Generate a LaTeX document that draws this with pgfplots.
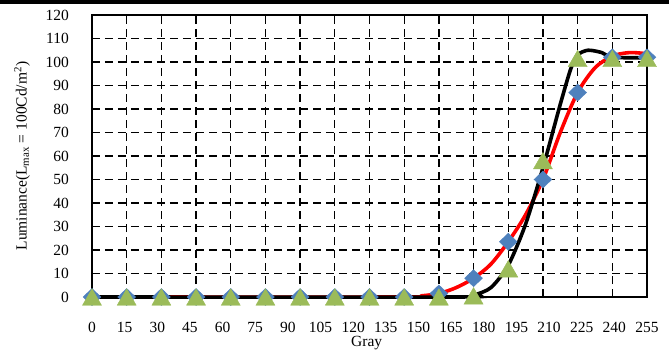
\documentclass[border=0pt]{standalone}
\usepackage{pgfplots}
\pgfplotsset{compat=1.18}
\usepackage{fontspec}
\setmainfont{Liberation Serif}
\definecolor{xlblue}{HTML}{4F81BD}
\definecolor{xlgreen}{HTML}{9BBB59}
\begin{document}
\begin{tikzpicture}[font=\fontsize{15.5bp}{18bp}\selectfont]
\path[use as bounding box] (-92bp,-59bp) rectangle (577bp,297bp);
\fill[black] (-92bp,297bp) rectangle (577bp,293bp);
\begin{axis}[
  at={(0,0)}, anchor=south west,
  scale only axis, width=555bp, height=282bp,
  xmin=0, xmax=16, ymin=0, ymax=120,
  clip=false,
  axis line style={line width=2.2bp},
  /pgf/number format/assume math mode=true,
  xtick={0,0.941176,1.882353,2.823529,3.764706,4.705882,5.647059,6.588235,7.529412,8.470588,9.411765,10.352941,11.294118,12.235294,13.176471,14.117647,15.058824,16},
  xticklabels={0,15,30,45,60,75,90,105,120,135,150,165,180,195,210,225,240,255},
  extra x ticks={1,2,...,15},
  extra x tick labels={},
  extra x tick style={xmajorgrids=true, major tick length=0},
  ytick={0,10,...,120},
  major tick length=0, minor tick length=0,
  xmajorgrids=false, ymajorgrids=true,
  grid style={black, line width=1.3bp, dash pattern=on 8bp off 5bp},
  xticklabel style={anchor=center, inner sep=0pt, yshift=-30bp},
  yticklabel style={anchor=east, inner sep=0pt, xshift=-23bp},
  xlabel={Gray},
  xlabel style={at={(axis description cs:0.495,0)}, anchor=center, yshift=-46bp, inner sep=0pt},
  ylabel={Luminance(L\textsubscript{max} = 100Cd/m\textsuperscript{2})},
  ylabel style={at={(axis description cs:-0.126,0.5)}, anchor=center, inner sep=0pt},
]
% red fitted curve
\addplot[red, line width=3.6bp, smooth, tension=0.5] coordinates {
(0,0) (9,0) (9.5,0.5) (10,1.5) (10.5,4) (11,8) (11.5,14) (12,23.5) (12.5,35) (13,50) (13.5,70) (14,87) (14.5,97.5) (15,102.5) (15.5,104) (16,103.5)
};
% black fitted curve
\addplot[black, line width=3.6bp, smooth, tension=0.45] coordinates {
(0,0) (10.5,0) (11,0.8) (11.5,4) (12,13.5) (12.5,31) (13,55) (13.5,82) (13.8,97) (14,103) (14.3,105) (14.7,104) (15,102) (16,101.8)
};
% blue diamonds
\addplot[only marks, mark=diamond*, mark size=8.5bp, mark options={xscale=1.4, draw=xlblue, fill=xlblue}] coordinates {
(0,0) (1,0) (2,0) (3,0) (4,0) (5,0) (6,0) (7,0) (8,0) (9,0) (10,1.5) (11,8) (12,23.5) (13,50) (14,87) (15,102) (16,102)
};
% green triangles
\addplot[only marks, mark=triangle*, mark size=11bp, mark options={yshift=-2.75bp, draw=xlgreen, fill=xlgreen}] coordinates {
(0,0) (1,0) (2,0) (3,0) (4,0) (5,0) (6,0) (7,0) (8,0) (9,0) (10,0) (11,0.5) (12,12) (13,58) (14,101.5) (15,101.5) (16,101.5)
};
\end{axis}
\end{tikzpicture}
\end{document}
